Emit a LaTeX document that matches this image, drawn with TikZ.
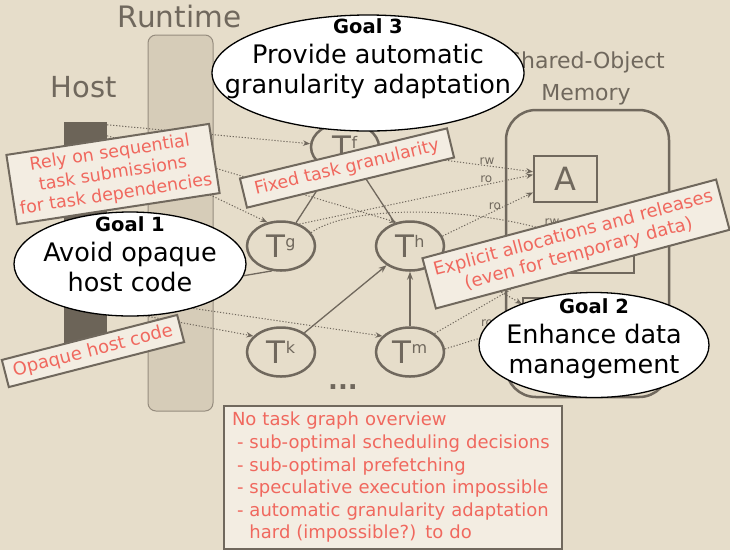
\documentclass[tikz,border=0pt]{standalone}
\usepackage{fontspec}
\setmainfont{DejaVu Sans}
\usetikzlibrary{shapes.geometric,arrows.meta,calc}
\definecolor{bg}{RGB}{230,221,202}
\definecolor{ink}{RGB}{112,104,93}
\definecolor{hostc}{RGB}{108,100,88}
\definecolor{rtfill}{RGB}{214,204,184}
\definecolor{rtline}{RGB}{150,140,126}
\definecolor{redt}{RGB}{240,104,94}
\definecolor{cream}{RGB}{243,237,226}
\newcommand\supl[1]{\raisebox{10pt}{\fontsize{16}{16}\selectfont #1}}
\begin{document}
\begin{tikzpicture}[x=1pt,y=-1pt,
  task/.style={ellipse, draw=ink, line width=2.5pt, fill=bg, minimum width=68pt, minimum height=49pt, inner sep=0pt, text=ink, font=\fontsize{31}{31}\selectfont},
  databox/.style={draw=ink, line width=2pt, inner sep=0pt},
  title/.style={text=ink, anchor=base, inner sep=0pt},
  dep/.style={ink, line width=1pt, dash pattern=on 1.2pt off 1.8pt, -{Stealth[length=7pt,width=5.5pt]}},
  solidarrow/.style={ink, line width=1.3pt, -{Stealth[length=8pt,width=6pt]}},
  lbl/.style={text=ink, font=\fontsize{12}{12}\selectfont, inner sep=1pt},
  redbox/.style={draw=ink, line width=2pt, fill=cream, text=redt, align=center, inner sep=3pt, font=\fontsize{17.5}{21}\selectfont},
  goal/.style={ellipse, draw=black, line width=1.3pt, fill=white, inner sep=0pt},
  goaltext/.style={anchor=north, inner sep=0pt, align=center, text=black, font=\fontsize{25.5}{30}\selectfont}
]
\useasboundingbox (0,0) rectangle (730,550);
\fill[bg] (0,0) rectangle (730,550);

% titles
\node[title, font=\fontsize{29.5}{29.5}\selectfont] (rt) at (179.5,27) {Runtime};
\node[title, font=\fontsize{29}{29}\selectfont] (ht) at (84,97) {Host};
\node[title, font=\fontsize{22}{22}\selectfont] (mt1) at (586,68) {Shared-Object};
\node[title, font=\fontsize{22}{22}\selectfont] (mt2) at (586,100) {Memory};

% bars
\node[draw=rtline, fill=rtfill, line width=1pt, rounded corners=8pt, minimum width=65pt, minimum height=376pt, inner sep=0pt] (R) at (180.5,223) {};
\node[fill=hostc, minimum width=43pt, minimum height=223pt, inner sep=0pt] (H) at (85.5,233.5) {};

% memory
\node[draw=ink, line width=2.5pt, rounded corners=30pt, minimum width=163pt, minimum height=287pt, inner sep=0pt] (M) at (587.5,253.5) {};
\node[databox, minimum width=63pt, minimum height=46pt, text=ink, font=\fontsize{32}{32}\selectfont] (A) at (565.5,179) {A};
\node[databox, minimum width=69pt, minimum height=41pt] (B) at (599.5,252.5) {};
\node[databox, minimum width=77pt, minimum height=62pt] (C) at (561.5,329) {};

% tasks
\node[task] (Tf) at (345,147) {T\supl{f}};
\node[task] (Tg) at (281,246) {T\supl{g}};
\node[task] (Th) at (410,246) {T\supl{h}};
\node[task] (Tk) at (281,352) {T\supl{k}};
\node[task] (Tm) at (410,352) {T\supl{m}};
\node[text=ink, inner sep=0pt, font=\fontsize{26}{26}\selectfont\bfseries] (dots) at (343,387) {...};

% coordinates
\coordinate (h1) at ($(H.north east)+(0,3)$);
\coordinate (h2) at ($(H.north east)+(0,14)$);
\coordinate (h3) at ($(H.north east)+(0,24)$);
\coordinate (h4) at ($(H.north east)+(0,174)$);
\coordinate (h5) at ($(H.north east)+(0,187)$);
\coordinate (Aa) at ($(A.south west)!0.65!(A.north west)$);
\coordinate (Ab) at ($(A.south west)!0.59!(A.north west)$);
\coordinate (Ac) at ($(A.south west)!0.22!(A.north west)$);
\coordinate (Bw) at ($(B.south west)!0.9!(B.north west)$);
\coordinate (Bs) at ($(B.south west)!0.35!(B.north west)$);
\coordinate (Cw1) at ($(C.south west)!0.56!(C.north west)$);
\coordinate (Cw2) at ($(C.south west)!0.89!(C.north west)$);
\coordinate (g1end) at (236,277);

% host submissions
\draw[dep] (h1) -- (Tf);
\draw[dep] (h2) -- (Th.120);
\draw[dep] (h3) -- (Tg.120);
\draw[dep] (h4) -- (Tm.150);
\draw[dep] (h5) -- (Tk.150);

% data accesses
\draw[dep] (Tf) -- node[lbl, pos=0.7, above] (l1) {rw} (Aa);
\draw[dep] (Tg.50) -- node[lbl, pos=0.8, above] (l2) {ro} (Ab);
\draw[dep] (Th.17) -- node[lbl, pos=0.58, above] (l3) {ro} (Ac);
\draw[dep] (Tg.24) .. controls (350,205) and (470,205) .. (Bw);
\node[lbl] (l4) at (552,222) {rw};
\draw[dep] (Tm.37) -- (Bs);
\draw[dep] (Tm.5) -- (Cw1);
\node[lbl] (l5) at (487,323) {ro};
\draw[dep] (Th.-20) -- (Cw2);

% dependencies
\draw[solidarrow] (Tg) -- (Tf);
\draw[solidarrow] (Th) -- (Tf);
\draw[solidarrow] (Tk) -- (Th);
\draw[solidarrow] (Tm) -- (Th);
\draw[ink, line width=1.3pt] (Tg.250) -- (g1end);

% red remarks
\node[redbox, rotate=8.7, minimum width=205pt, minimum height=70pt] (rely) at (113,174) {Rely on sequential\\task submissions\\for task dependencies};
\node[redbox, rotate=13.6, minimum width=213pt, minimum height=30pt] (fixed) at (347,168) {Fixed task granularity};
\node[redbox, rotate=15, minimum width=304pt, minimum height=52pt, font=\fontsize{18}{21}\selectfont] (expl) at (576,244) {Explicit allocations and releases\\(even for temporary data)};
\node[redbox, rotate=14.4, minimum width=181pt, minimum height=28pt, font=\fontsize{18}{21}\selectfont] (opaque) at (93,351) {Opaque host code};

% goals
\node[goal, minimum width=312pt, minimum height=116pt] (G3) at (368,73) {};
\node[goaltext] (G3t) at (368,18) {{\fontsize{19.5}{30}\selectfont\bfseries Goal 3}\\Provide automatic\\granularity adaptation};
\node[goal, minimum width=232pt, minimum height=104pt] (G1) at (130,264) {};
\node[goaltext] (G1t) at (130,216) {{\fontsize{19.5}{30}\selectfont\bfseries Goal 1}\\Avoid opaque\\host code};
\node[goal, minimum width=230pt, minimum height=105pt] (G2) at (594,345) {};
\node[goaltext] (G2t) at (594,298) {{\fontsize{19.5}{30}\selectfont\bfseries Goal 2}\\Enhance data\\management};

% notes
\node[draw=ink, line width=2pt, fill=cream, text=redt, anchor=north west, minimum width=338pt, minimum height=143pt, text width=322pt, align=left, inner xsep=8pt, inner ysep=4pt, font=\fontsize{18}{22.6}\selectfont] (notes) at (223,405) {No task graph overview\\\hspace*{5pt}- sub-optimal scheduling decisions\\\hspace*{5pt}- sub-optimal prefetching\\\hspace*{5pt}- speculative execution impossible\\\hspace*{5pt}- automatic granularity adaptation\\\hspace*{5pt}\phantom{- }hard (impossible?) to do};
\end{tikzpicture}
\end{document}
